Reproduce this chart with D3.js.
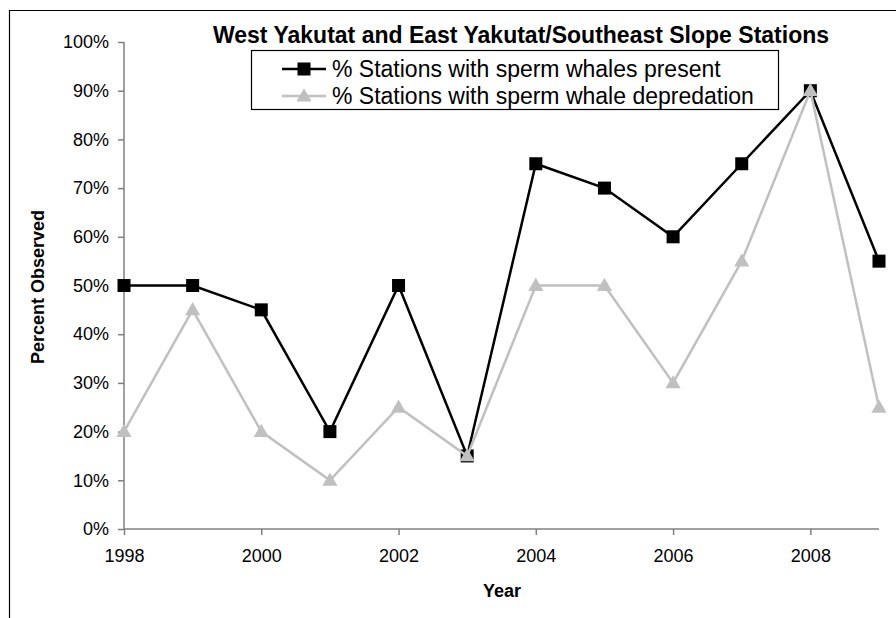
<!DOCTYPE html>
<html>
<head>
<meta charset="utf-8">
<script src="https://cdn.jsdelivr.net/npm/d3@7"></script>
<style>
  body { margin: 0; background: #fff; }
  text { font-family: "Liberation Sans", Arial, sans-serif; }
</style>
</head>
<body>
<div id="chart"></div>
<script>
// data
var years = [1998, 1999, 2000, 2001, 2002, 2003, 2004, 2005, 2006, 2007, 2008, 2009];
var present = [50, 50, 45, 20, 50, 15, 75, 70, 60, 75, 90, 55];
var depredation = [20, 45, 20, 10, 25, 15, 50, 50, 30, 55, 90, 25];
var yTicks = [0, 10, 20, 30, 40, 50, 60, 70, 80, 90, 100];
var xTicks = [1998, 2000, 2002, 2004, 2006, 2008];
var seriesNames = ["% Stations with sperm whales present", "% Stations with sperm whale depredation"];

var width = 896, height = 618;
var svg = d3.select("#chart").append("svg")
  .attr("width", width)
  .attr("height", height);

// outer frame (only top and left edges show)
svg.append("path")
  .attr("d", "M9.5,618 V10.5 H896")
  .attr("fill", "none")
  .attr("stroke", "#000")
  .attr("stroke-width", 1.2);

var x = d3.scaleLinear().domain([1998, 2009]).range([124, 879]);
var y = d3.scaleLinear().domain([0, 100]).range([529, 42]);

// y axis
var yAxis = svg.append("g")
  .attr("transform", "translate(124,0)")
  .call(d3.axisLeft(y).tickValues(yTicks).tickSize(6).tickPadding(9)
    .tickFormat(function(d) { return d + "%"; }));
// x axis
var xAxis = svg.append("g")
  .attr("transform", "translate(0,529)")
  .call(d3.axisBottom(x).tickValues(xTicks).tickSize(6).tickPadding(14)
    .tickFormat(d3.format("d")));

[yAxis, xAxis].forEach(function(a) {
  a.select(".domain").attr("stroke", "#808080").attr("stroke-width", 1.5);
  a.selectAll(".tick line").attr("stroke", "#808080").attr("stroke-width", 1.5);
  a.selectAll("text").attr("fill", "#000").style("font-size", "18px")
    .style("font-family", "'Liberation Sans', Arial, sans-serif");
});
// x domain has no outer ticks at ends
xAxis.select(".domain").attr("d", "M124,0H879");
yAxis.select(".domain").attr("d", "M0,529V42");

var line = d3.line()
  .x(function(d, i) { return x(years[i]); })
  .y(function(d) { return y(d); });

var tri = d3.symbol().type(d3.symbolTriangle).size(100);

// series 1: black squares
svg.append("path")
  .datum(present)
  .attr("d", line)
  .attr("fill", "none")
  .attr("stroke", "#000")
  .attr("stroke-width", 2.5);
svg.selectAll(".sq")
  .data(present)
  .enter().append("rect")
  .attr("x", function(d, i) { return x(years[i]) - 6.5; })
  .attr("y", function(d) { return y(d) - 6.5; })
  .attr("width", 13)
  .attr("height", 13)
  .attr("fill", "#000");

// series 2: gray triangles
svg.append("path")
  .datum(depredation)
  .attr("d", line)
  .attr("fill", "none")
  .attr("stroke", "#c0c0c0")
  .attr("stroke-width", 2.5);
svg.selectAll(".tri")
  .data(depredation)
  .enter().append("path")
  .attr("d", tri)
  .attr("transform", function(d, i) { return "translate(" + x(years[i]) + "," + (y(d) + 1) + ")"; })
  .attr("fill", "#c0c0c0");

// title
svg.append("text")
  .attr("x", 521)
  .attr("y", 43)
  .attr("text-anchor", "middle")
  .style("font-size", "23px")
  .style("font-weight", "bold")
  .text("West Yakutat and East Yakutat/Southeast Slope Stations");

// legend
var lg = svg.append("g");
lg.append("rect")
  .attr("x", 251.5).attr("y", 50.5)
  .attr("width", 527).attr("height", 59)
  .attr("fill", "#fff")
  .attr("stroke", "#000")
  .attr("stroke-width", 1.2);
var rows = [69, 96];
rows.forEach(function(cy, i) {
  var col = i === 0 ? "#000" : "#c0c0c0";
  lg.append("line")
    .attr("x1", 282).attr("x2", 326)
    .attr("y1", cy).attr("y2", cy)
    .attr("stroke", col).attr("stroke-width", 2.5);
  if (i === 0) {
    lg.append("rect").attr("x", 297.5).attr("y", cy - 6.5)
      .attr("width", 13).attr("height", 13).attr("fill", col);
  } else {
    lg.append("path").attr("d", tri)
      .attr("transform", "translate(304," + (cy + 1) + ")")
      .attr("fill", col);
  }
  lg.append("text")
    .attr("x", 332).attr("y", cy + 8)
    .style("font-size", "23px")
    .text(seriesNames[i]);
});

// axis titles
svg.append("text")
  .attr("x", 502).attr("y", 597)
  .attr("text-anchor", "middle")
  .style("font-size", "18px")
  .style("font-weight", "bold")
  .text("Year");
svg.append("text")
  .attr("transform", "translate(44,287) rotate(-90)")
  .attr("text-anchor", "middle")
  .style("font-size", "18px")
  .style("font-weight", "bold")
  .text("Percent Observed");
</script>
</body>
</html>
